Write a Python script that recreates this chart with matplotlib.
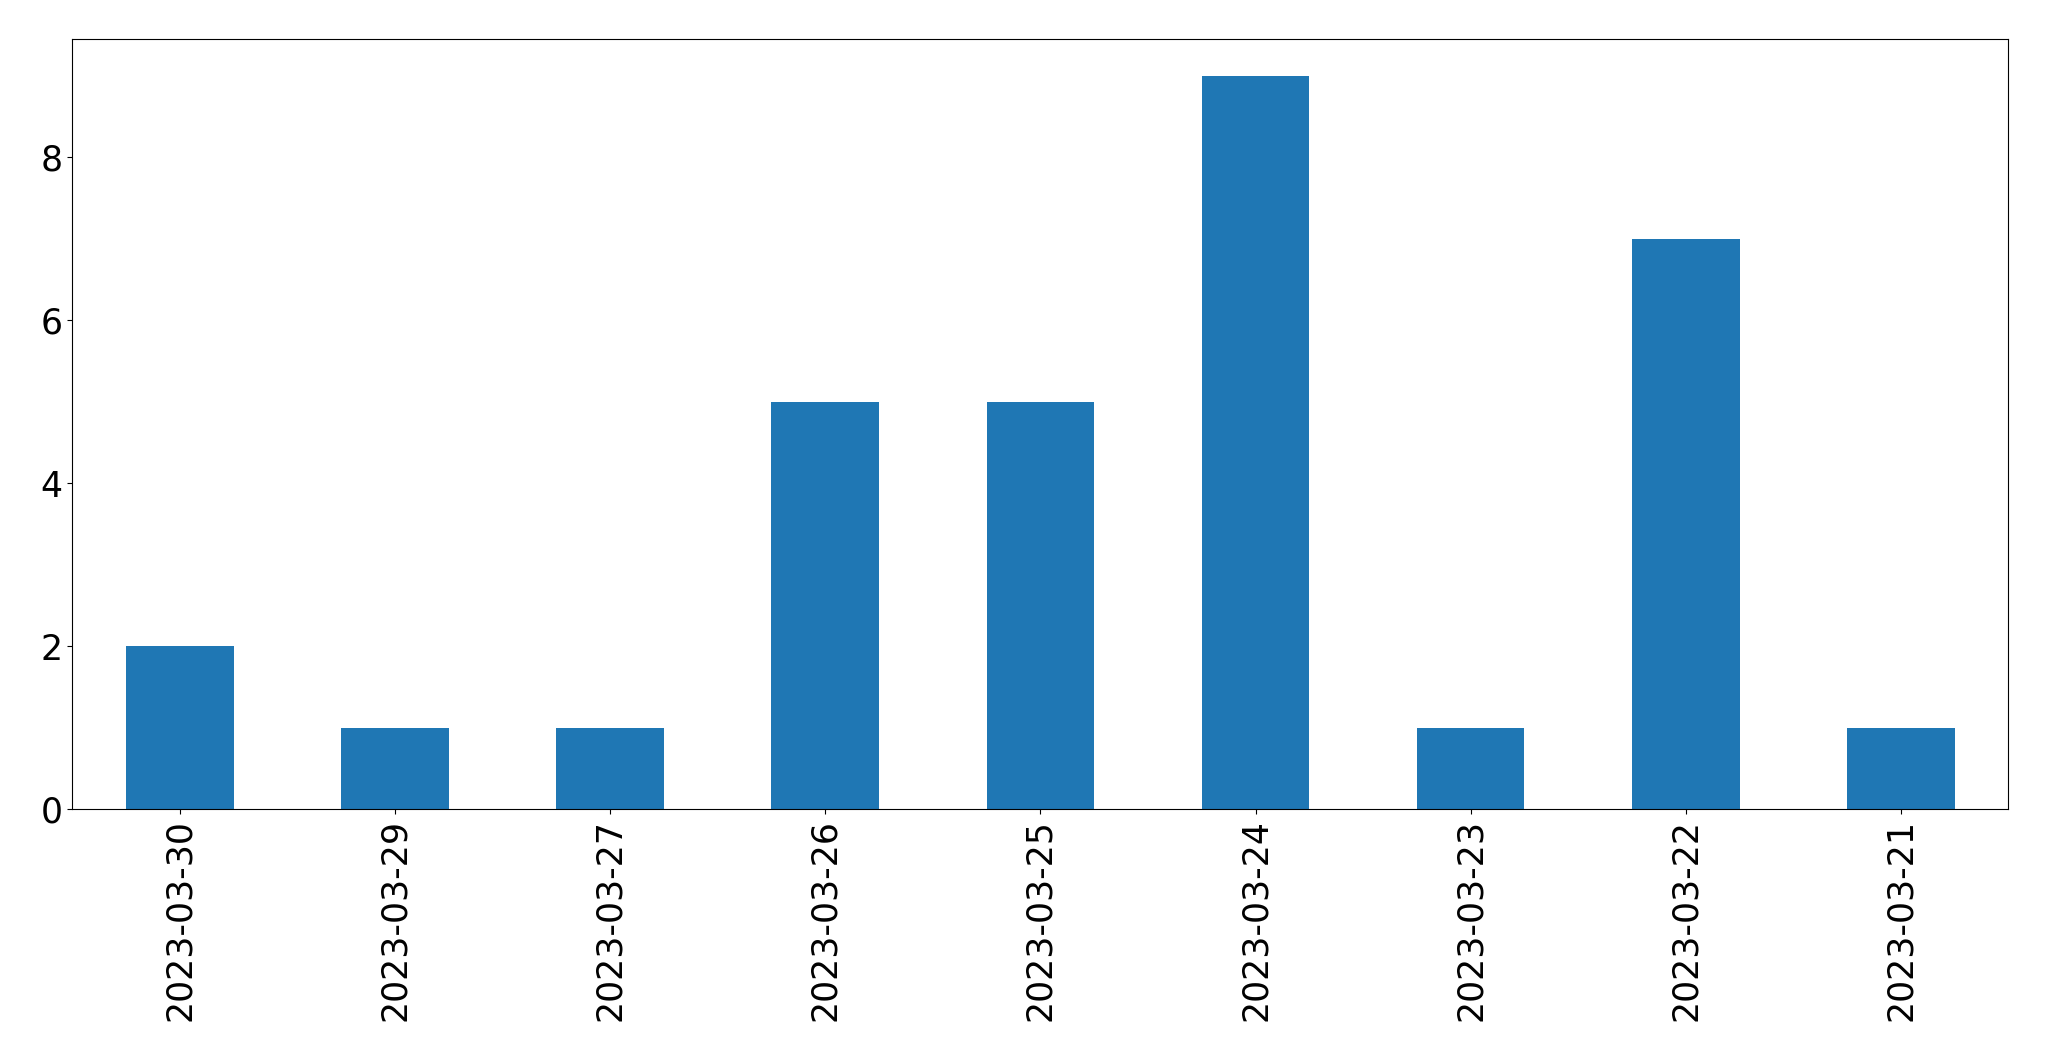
import matplotlib
matplotlib.use("Agg")
import matplotlib.pyplot as plt
import pandas as pd

dates = ["2023-03-30", "2023-03-29", "2023-03-27", "2023-03-26", "2023-03-25",
         "2023-03-24", "2023-03-23", "2023-03-22", "2023-03-21"]
counts = [2, 1, 1, 5, 5, 9, 1, 7, 1]

s = pd.Series(counts, index=dates)

fig, ax = plt.subplots(figsize=(20.49, 10.61), dpi=100)
s.plot(kind="bar", ax=ax, color="#1f77b4")
ax.tick_params(labelsize=25)

fig.subplots_adjust(left=0.0353, right=0.9802, top=0.963, bottom=0.2372)
plt.savefig("out.png", dpi=100)
